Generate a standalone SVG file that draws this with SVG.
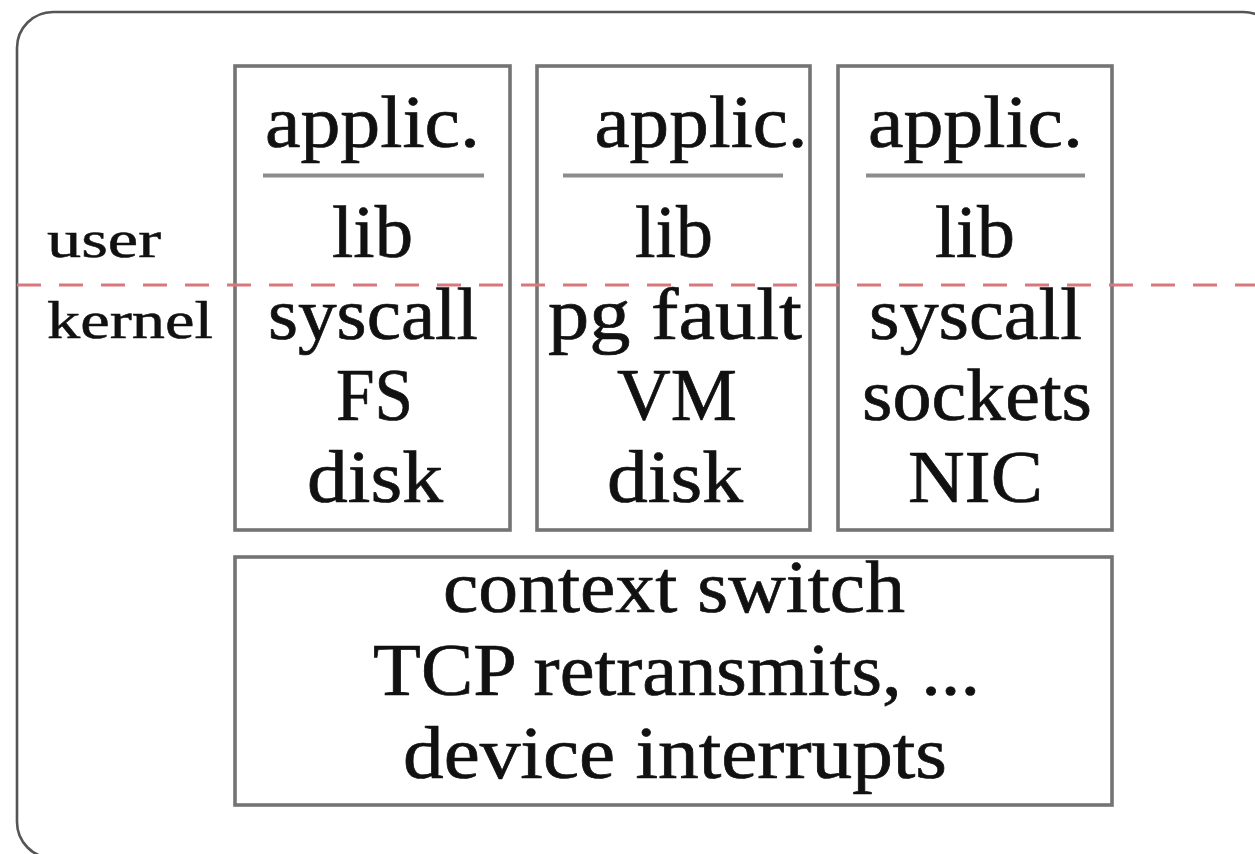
<svg xmlns="http://www.w3.org/2000/svg" width="1255" height="854" viewBox="0 0 1255 854">
  <style>
    .frame { fill: #ffffff; stroke: #555555; stroke-width: 2.6; }
    .box { fill: #ffffff; stroke: #747474; stroke-width: 3.6; }
    .rule { stroke: #8c8c8c; stroke-width: 4; }
    .split { stroke: #d8787c; stroke-width: 3.2; stroke-dasharray: 24 18; fill: none; }
    text { font-family: "Liberation Serif", "Times New Roman", serif; font-size: 74px; fill: #111111; stroke: #111111; stroke-width: 0.7; text-anchor: middle; }
    text.side { text-anchor: start; font-size: 52px; stroke-width: 0.5; }
  </style>
  <rect width="1255" height="854" fill="#ffffff"/>

  <!-- outer frame, runs off the right and bottom edges -->
  <rect class="frame" x="17" y="12" width="1262" height="846" rx="36" ry="36"/>

  <!-- first stack: file system path -->
  <g id="stack-fs">
    <rect class="box" x="235" y="66" width="275" height="464"/>
    <text x="372.5" y="147" textLength="215" lengthAdjust="spacingAndGlyphs">applic.</text>
    <line class="rule" x1="263" y1="175.5" x2="484" y2="175.5"/>
    <text x="372.5" y="257" textLength="81" lengthAdjust="spacingAndGlyphs">lib</text>
    <text x="373" y="339" textLength="210" lengthAdjust="spacingAndGlyphs">syscall</text>
    <text x="374.5" y="420" textLength="77" lengthAdjust="spacingAndGlyphs">FS</text>
    <text x="375" y="502" textLength="136" lengthAdjust="spacingAndGlyphs">disk</text>
  </g>

  <!-- second stack: paging path -->
  <g id="stack-vm">
    <rect class="box" x="537" y="66" width="273" height="464"/>
    <text x="701" y="147" textLength="213" lengthAdjust="spacingAndGlyphs">applic.</text>
    <line class="rule" x1="563" y1="175.5" x2="783" y2="175.5"/>
    <text x="674" y="257" textLength="78" lengthAdjust="spacingAndGlyphs">lib</text>
    <text x="675" y="339" textLength="254" lengthAdjust="spacingAndGlyphs">pg fault</text>
    <text x="677" y="420" textLength="120" lengthAdjust="spacingAndGlyphs">VM</text>
    <text x="675" y="502" textLength="136" lengthAdjust="spacingAndGlyphs">disk</text>
  </g>

  <!-- third stack: network path -->
  <g id="stack-net">
    <rect class="box" x="838" y="66" width="274" height="464"/>
    <text x="975.5" y="147" textLength="215" lengthAdjust="spacingAndGlyphs">applic.</text>
    <line class="rule" x1="866" y1="175.5" x2="1085" y2="175.5"/>
    <text x="975" y="257" textLength="80" lengthAdjust="spacingAndGlyphs">lib</text>
    <text x="975.5" y="339" textLength="213" lengthAdjust="spacingAndGlyphs">syscall</text>
    <text x="977" y="420" textLength="230" lengthAdjust="spacingAndGlyphs">sockets</text>
    <text x="975.5" y="502" textLength="135" lengthAdjust="spacingAndGlyphs">NIC</text>
  </g>

  <!-- shared kernel activity -->
  <g id="kernel-common">
    <rect class="box" x="235" y="557" width="877" height="248"/>
    <text x="674" y="612" textLength="462" lengthAdjust="spacingAndGlyphs">context switch</text>
    <text x="676.5" y="695" textLength="607" lengthAdjust="spacingAndGlyphs">TCP retransmits, ...</text>
    <text x="675" y="778" textLength="544" lengthAdjust="spacingAndGlyphs">device interrupts</text>
  </g>

  <!-- user / kernel boundary -->
  <g id="boundary">
    <line class="split" x1="17" y1="285" x2="1255" y2="285"/>
    <text class="side" x="47" y="257" textLength="114" lengthAdjust="spacingAndGlyphs">user</text>
    <text class="side" x="47" y="338" textLength="166" lengthAdjust="spacingAndGlyphs">kernel</text>
  </g>
</svg>
